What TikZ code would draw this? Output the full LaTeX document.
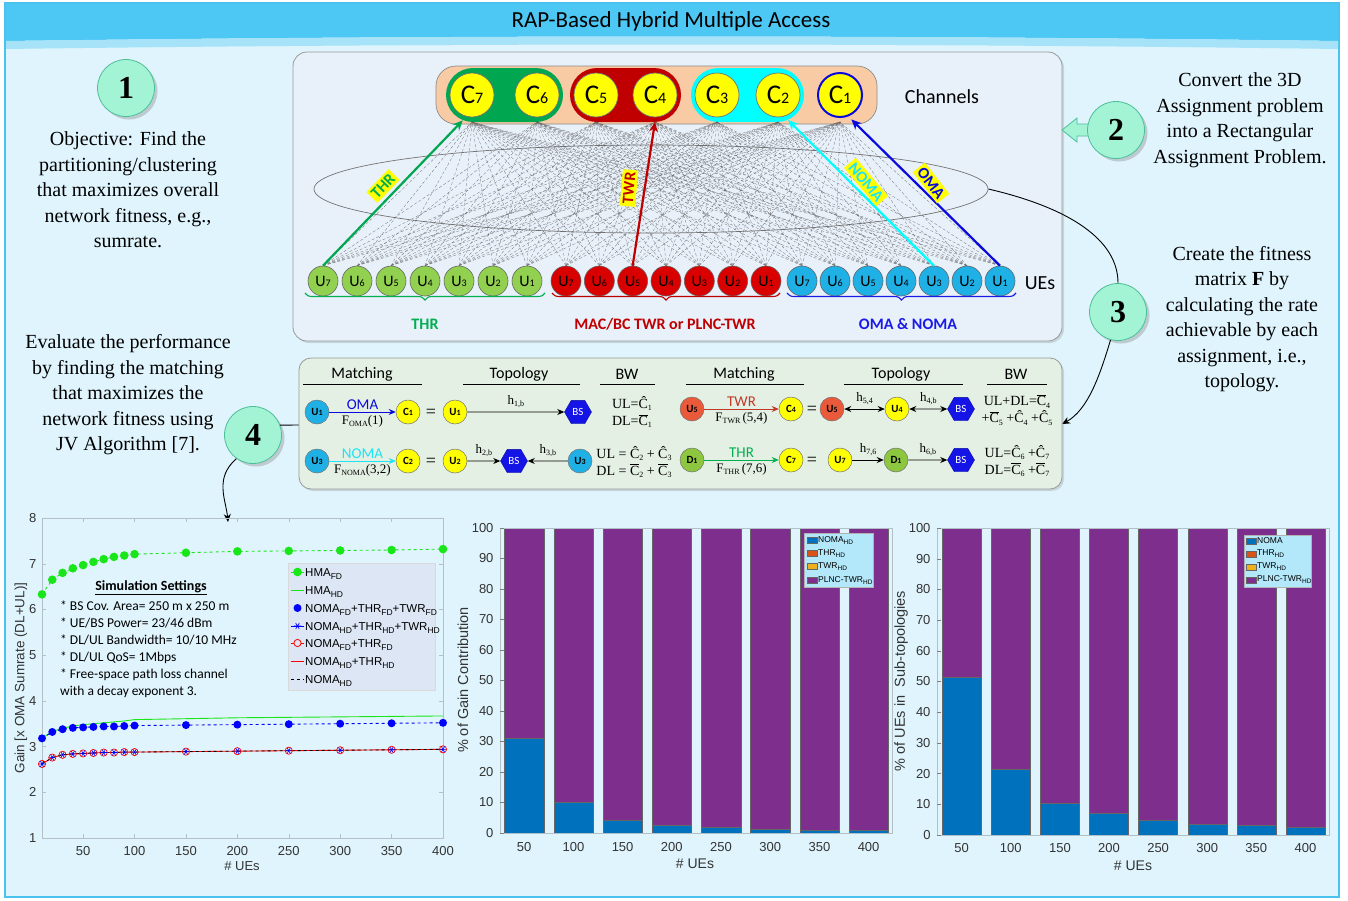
\documentclass[tikz,border=0pt]{standalone}
\usepackage{fontspec}
\setmainfont{Liberation Serif}
\newfontfamily\calib{Carlito}
\newfontfamily\helv{Liberation Sans}
\usetikzlibrary{shapes.geometric,arrows.meta,decorations.pathreplacing,shadows}
\newcommand\fsz[2]{\fontsize{#1}{#2}\selectfont}
\newcommand\smd[2]{{\fsz{#1}{#1}#2}}
\newcommand\ssb[1]{\raisebox{-0.4ex}{\fsz{8.5}{8.5}#1}}
\newcommand\tsb[1]{\raisebox{-0.45ex}{\fsz{6.5}{6.5}#1}}
\newcommand\fsb[1]{\raisebox{-0.35ex}{\fsz{8}{8}#1}}
\newcommand\Ch[1]{Ĉ\fsb{#1}}
\newcommand\Cb[1]{$\overline{\hbox{C}}$\fsb{#1}}
\def\datA{10/6.33,20/6.65,30/6.8,40/6.9,50/6.97,60/7.04,70/7.1,80/7.15,90/7.18,100/7.21,150/7.24,200/7.27,250/7.28,300/7.29,350/7.3,400/7.32}
\def\datB{10/3.18,20/3.33,30/3.4,40/3.45,50/3.48,60/3.5,70/3.52,80/3.54,90/3.56,100/3.59,150/3.61,200/3.63,250/3.64,300/3.65,350/3.66,400/3.67}
\def\datC{10/3.18,20/3.32,30/3.38,40/3.41,50/3.42,60/3.43,70/3.44,80/3.44,90/3.45,100/3.46,150/3.47,200/3.48,250/3.49,300/3.5,350/3.51,400/3.52}
\def\datD{10/2.62,20/2.76,30/2.82,40/2.84,50/2.85,60/2.86,70/2.87,80/2.87,90/2.88,100/2.88,150/2.89,200/2.9,250/2.91,300/2.92,350/2.93,400/2.94}
\definecolor{bgc}{HTML}{DFF4FC}
\definecolor{frame}{HTML}{49C2EE}
\definecolor{titlec}{HTML}{4DC8F5}
\definecolor{titlel}{HTML}{A6E3F8}
\definecolor{panel}{HTML}{E8F0FA}
\definecolor{panelg}{HTML}{E4F0E4}
\definecolor{peach}{HTML}{F8CBA5}
\definecolor{gpill}{HTML}{00A650}
\definecolor{rpill}{HTML}{C00000}
\definecolor{cpill}{HTML}{00FFFF}
\definecolor{chy}{HTML}{FFFF00}
\definecolor{ueg}{HTML}{92D050}
\definecolor{uer}{HTML}{D90000}
\definecolor{ueb}{HTML}{1FB1E6}
\definecolor{oblue}{HTML}{0A0ADC}
\definecolor{thrg}{HTML}{00B050}
\definecolor{txtr}{HTML}{C00000}
\definecolor{txtb}{HTML}{1A1AE6}
\definecolor{mint}{HTML}{A3F3D5}
\definecolor{mintd}{HTML}{4DBF98}
\definecolor{uor}{HTML}{EA5A3A}
\definecolor{dgr}{HTML}{8DC63F}
\definecolor{bsb}{HTML}{1414E6}
\definecolor{twrc}{HTML}{C0392B}
\definecolor{nomac}{HTML}{1EE3F5}
\definecolor{mblue}{HTML}{0072BD}
\definecolor{morange}{HTML}{D95319}
\definecolor{myellow}{HTML}{EDB120}
\definecolor{mpurple}{HTML}{7E2F8E}
\definecolor{legbg}{HTML}{DCE6F4}
\definecolor{legc}{HTML}{B2E8FA}
\definecolor{pgreen}{HTML}{19E619}
\definecolor{axg}{HTML}{B4C0C8}
\begin{document}
\begin{tikzpicture}[x=1pt,y=-1pt,
  declare function={lx(\t)=42+(\t-10)*1.02821; ly(\t)=838-(\t-1)*45.714;},
  chan/.style={circle,fill=chy,draw=black!55,line width=0.7pt,minimum size=44pt,inner sep=0pt,outer sep=5pt,font=\calib\fsz{27}{27}},
  ue/.style={circle,fill=#1,draw=black!60,line width=0.6pt,minimum size=30pt,inner sep=0pt,font=\calib\fsz{16}{16}},
  mesh/.style={densely dashed,black!60,line width=0.25pt},
  hl/.style={line width=2.2pt,-{Stealth[length=10pt,width=9pt]}},
  tag/.style={fill=chy,font=\calib\bfseries\fsz{16}{16},inner sep=2.5pt},
  grp/.style={font=\calib\bfseries\fsz{16}{16}},
  brc/.style={decorate,decoration={brace,mirror,amplitude=7pt},line width=1.1pt},
  num/.style={circle,fill=mint,draw=mintd,line width=0.8pt,minimum size=57pt,inner sep=0pt,font=\bfseries\fsz{32}{32},drop shadow={opacity=0.35,shadow xshift=3pt,shadow yshift=-3pt}},
  desc/.style={align=center,font=\fsz{20}{25.5}},
  sm/.style={circle,fill=#1,draw=black!55,line width=0.5pt,minimum size=24pt,inner sep=0pt,font=\calib\bfseries\fsz{11}{11}},
  bs/.style={regular polygon,regular polygon sides=6,fill=bsb,draw=bsb!70!black,minimum size=27pt,inner sep=0pt,text=white,font=\calib\fsz{11}{11}},
  hdr/.style={font=\calib\fsz{16}{16}},
  sarr/.style={-{Stealth[length=7pt,width=6pt]},line width=0.9pt},
  darr/.style={{Stealth[length=7pt,width=6pt]}-{Stealth[length=7pt,width=6pt]},line width=0.9pt},
  mlab/.style={font=\calib\fsz{15}{15}},
  flab/.style={font=\fsz{13}{13},text=black,inner sep=1pt},
  hlab/.style={font=\fsz{13}{13},text=black},
  bw/.style={align=center,font=\fsz{14}{17}},
  eqs/.style={font=\fsz{18}{18}},
  tkl/.style={font=\helv\fsz{13}{13},text=black!80},
  leg/.style={anchor=west,font=\helv\fsz{11.5}{11.5},inner sep=0pt},
  bleg/.style={anchor=west,font=\helv\fsz{8.5}{8.5},inner sep=0pt},
]
\useasboundingbox (0,0) rectangle (1348,900);
\fill[white] (0,0) rectangle (1348,900);
\filldraw[fill=bgc,draw=frame,line width=2.5pt] (5,3) rectangle (1339,897);
\fill[titlec] (6,4) -- (1338,4) -- (1338,41) .. controls (900,35) and (450,35) .. (6,41) -- cycle;
\fill[titlel] (6,41) .. controls (450,35) and (900,35) .. (1338,41) -- (1338,49) .. controls (900,43) and (450,43) .. (6,49) -- cycle;
\node[font=\calib\fsz{23}{23}] (title) at (671,21) {RAP-Based Hybrid Multiple Access};

% ---------- top panel ----------
\filldraw[fill=panel,draw=black!40,line width=0.8pt,rounded corners=14pt,drop shadow={opacity=0.25,shadow xshift=2pt,shadow yshift=-2pt}] (293,52) rectangle (1062,341);
\filldraw[fill=peach,draw=black!45,line width=0.7pt,rounded corners=20pt] (436,66) rectangle (877,124);
\fill[gpill,rounded corners=27pt] (446,68) rectangle (563,122);
\fill[rpill,rounded corners=27pt] (570,68) rectangle (681,122);
\fill[cpill,rounded corners=27pt] (691,68) rectangle (804,122);
\node[chan] (c7) at (472,95) {C\smd{16}{7}};
\node[chan] (c6) at (537,95) {C\smd{16}{6}};
\node[chan] (c5) at (596,95) {C\smd{16}{5}};
\node[chan] (c4) at (655,95) {C\smd{16}{4}};
\node[chan] (c3) at (717,95) {C\smd{16}{3}};
\node[chan] (c2) at (778,95) {C\smd{16}{2}};
\node[chan,draw=oblue,line width=2pt] (c1) at (840,95) {C\smd{16}{1}};
\node[font=\calib\fsz{20}{20}] (chlab) at (942,97) {Channels};

\node[ellipse,draw=black!55,line width=0.7pt,minimum width=674pt,minimum height=88pt,inner sep=0pt] (ell) at (651,189) {};

\foreach \i [count=\k from 0] in {7,...,1} {
  \node[ue=ueg] (g\i) at ({323+34*\k},281) {U\smd{10}{\i}};
  \node[ue=uer] (r\i) at ({566+33.33*\k},281) {U\smd{10}{\i}};
  \node[ue=ueb] (b\i) at ({802+33*\k},281) {U\smd{10}{\i}};
}
\node[font=\calib\fsz{20}{20}] (uel) at (1040,283) {UEs};

\foreach \p in {g,r,b} \foreach \i in {1,...,7} \foreach \j in {1,...,7}
  \draw[mesh] (\p\i.north) -- (c\j.south);

\draw[hl,gpill] (g7.north) -- (c7.250);
\draw[hl,rpill] (r5.north) -- (c4.south);
\draw[hl,cpill] (b3.north) -- (c2.292);
\draw[hl,oblue] (b1.north) -- (c1.295);
\node[tag,text=thrg,rotate=46] (tthr) at (383,186) {THR};
\node[tag,text=txtr,rotate=85] (ttwr) at (629,188) {TWR};
\node[tag,text=nomac,rotate=-50] (tnoma) at (866,182) {NOMA};
\node[tag,text=oblue,rotate=-52] (toma) at (931,183) {OMA};

\draw[brc,thrg] (305,293) -- (545,293);
\draw[brc,txtr] (552,293) -- (780,293);
\draw[brc,txtb] (787,293) -- (1016,293);
\node[grp,text=thrg] (gthr) at (425,324) {THR};
\node[grp,text=txtr] (gtwr) at (665,324) {MAC/BC TWR or PLNC-TWR};
\node[grp,text=txtb] (goma) at (908,324) {OMA \& NOMA};

% ---------- descriptions ----------
\fill[mint,draw=mintd,line width=0.8pt] (1062,130) -- (1077,118) -- (1077,124) -- (1092,124) -- (1092,136) -- (1077,136) -- (1077,142) -- cycle;
\node[num] (n1) at (126,88) {1};
\node[num] (n2) at (1116,130) {2};
\node[num] (n3) at (1118,312) {3};
\node[num] (n4) at (253,435) {4};
\node[desc] (d1) at (128,190) {Objective: Find the\\partitioning/clustering\\that maximizes overall\\network fitness, e.g.,\\sumrate.};
\node[desc] (d2) at (1240,120) {Convert the 3D\\Assignment problem\\into a Rectangular\\Assignment Problem.};
\node[desc] (d3) at (1242,319) {Create the fitness\\matrix \textbf{F} by\\calculating the rate\\achievable by each\\assignment, i.e.,\\topology.};
\node[desc] (d4) at (128,395) {Evaluate the performance\\by finding the matching\\that maximizes the\\network fitness using\\JV Algorithm [7].};

\coordinate (p2r) at (1062,424);
\coordinate (p2l) at (299,425);
\coordinate (pl) at (228,522);
\draw[line width=0.9pt] (ell.east) .. controls (1070,208) and (1118,240) .. (n3.north);
\draw[line width=0.9pt,-{Stealth[length=8pt,width=7pt]}] (n3.255) .. controls (1100,375) and (1088,410) .. (p2r);
\draw[line width=0.9pt] (n4.20) -- (p2l);
\draw[line width=0.9pt,-{Stealth[length=8pt,width=7pt]}] (n4.235) .. controls (214,478) and (226,500) .. (pl);

% ---------- lower panel ----------
\filldraw[fill=panelg,draw=black!40,line width=0.8pt,rounded corners=12pt,drop shadow={opacity=0.25,shadow xshift=2pt,shadow yshift=-2pt}] (299,358) rectangle (1062,489);
\node[hdr] (h1) at (362,374) {Matching};
\node[hdr] (h2) at (519,374) {Topology};
\node[hdr] (h3) at (627,374) {BW};
\node[hdr] (h4) at (744,374) {Matching};
\node[hdr] (h5) at (901,374) {Topology};
\node[hdr] (h6) at (1016,374) {BW};
\draw[line width=0.8pt] (303,384) -- (422,384) (463,384) -- (580,384) (600,384) -- (655,384) (686,384) -- (804,384) (844,384) -- (963,384) (987,384) -- (1047,384);

\node[sm=ueb] (pA1) at (317,412) {U\smd{8}{1}};
\node[sm=chy] (pA2) at (408,412) {C\smd{8}{1}};
\draw[sarr,oblue] (pA1) -- node[above=-1pt,mlab]{OMA} node[below=2pt,flab]{F\fsb{OMA}(1)} (pA2);
\node[eqs] (pAe) at (431,413) {=};
\node[sm=chy] (pA3) at (455,412) {U\smd{8}{1}};
\node[bs] (pA4) at (578,412) {BS};
\draw[sarr] (pA3) -- node[above=0pt,hlab]{h\fsb{1,b}} (pA4);
\node[bw] (pA5) at (632,412) {UL=\Ch{1}\\DL=\Cb{1}};

\node[sm=ueb] (pB1) at (317,461) {U\smd{8}{3}};
\node[sm=chy] (pB2) at (408,461) {C\smd{8}{2}};
\draw[sarr,nomac] (pB1) -- node[above=-1pt,mlab]{NOMA} node[below=2pt,flab]{F\fsb{NOMA}(3,2)} (pB2);
\node[eqs] (pBe) at (431,462) {=};
\node[sm=chy] (pB3) at (455,461) {U\smd{8}{2}};
\node[bs] (pB4) at (514,461) {BS};
\node[sm=ueb] (pB5) at (580,461) {U\smd{8}{3}};
\draw[sarr] (pB3) -- node[above=0pt,hlab]{h\fsb{2,b}} (pB4);
\draw[sarr] (pB5) -- node[above=0pt,hlab]{h\fsb{3,b}} (pB4);
\node[bw] (pB6) at (634,462) {UL = \Ch{2} + \Ch{3}\\DL = \Cb{2} + \Cb{3}};

\node[sm=uor] (pC1) at (692,409) {U\smd{8}{5}};
\node[sm=chy] (pC2) at (791,409) {C\smd{8}{4}};
\draw[sarr,twrc] (pC1) -- node[above=-1pt,mlab]{TWR} node[below=2pt,flab]{F\fsb{TWR}\,(5,4)} (pC2);
\node[eqs] (pCe) at (812,410) {=};
\node[sm=uor] (pC3) at (832,409) {U\smd{8}{5}};
\node[sm=chy] (pC4) at (897,409) {U\smd{8}{4}};
\node[bs] (pC5) at (961,409) {BS};
\draw[darr] (pC3) -- node[above=0pt,hlab]{h\fsb{5,4}} (pC4);
\draw[darr] (pC4) -- node[above=0pt,hlab]{h\fsb{4,b}} (pC5);
\node[bw] (pC6) at (1017,410) {UL+DL=\Cb{4}\\+\Cb{5} +\Ch{4} +\Ch{5}};

\node[sm=dgr] (pD1) at (692,460) {D\smd{8}{1}};
\node[sm=chy] (pD2) at (791,460) {C\smd{8}{7}};
\draw[sarr,thrg] (pD1) -- node[above=-1pt,mlab]{THR} node[below=2pt,flab]{F\fsb{THR}\,(7,6)} (pD2);
\node[eqs] (pDe) at (812,461) {=};
\node[sm=chy] (pD3) at (840,460) {U\smd{8}{7}};
\node[sm=dgr] (pD4) at (896,460) {D\smd{8}{1}};
\node[bs] (pD5) at (961,460) {BS};
\draw[sarr] (pD3) -- node[above=0pt,hlab]{h\fsb{7,6}} (pD4);
\draw[sarr] (pD4) -- node[above=0pt,hlab]{h\fsb{6,b}} (pD5);
\node[bw] (pD6) at (1017,461) {UL=\Ch{6} +\Ch{7}\\DL=\Cb{6} +\Cb{7}};

% ---------- left plot ----------
\draw[axg,line width=0.6pt] ({lx(10)},{ly(1)}) rectangle ({lx(400)},{ly(8)});
\foreach \v in {1,...,8} {
  \draw[axg] ({lx(10)},{ly(\v)}) -- ++(4,0);
  \draw[axg] ({lx(400)},{ly(\v)}) -- ++(-4,0);
  \node[tkl,anchor=east] at (40,{ly(\v)}) {\v};
}
\foreach \v in {50,100,...,400} {
  \draw[axg] ({lx(\v)},838) -- ++(0,-4);
  \draw[axg] ({lx(\v)},518) -- ++(0,4);
  \node[tkl] at ({lx(\v)},851) {\v};
}
\draw[pgreen,line width=0.9pt] ({lx(10)},{ly(3.18)}) \foreach \x/\y in \datB {-- ({lx(\x)},{ly(\y)})};
\draw[pgreen,dashed,line width=0.9pt] ({lx(10)},{ly(6.33)}) \foreach \x/\y in \datA {-- ({lx(\x)},{ly(\y)})};
\foreach \x/\y in \datA {\fill[pgreen] ({lx(\x)},{ly(\y)}) circle (4.3);}
\draw[blue,dashed,line width=0.9pt] ({lx(10)},{ly(3.18)}) \foreach \x/\y in \datC {-- ({lx(\x)},{ly(\y)})};
\foreach \x/\y in \datC {\fill[blue] ({lx(\x)},{ly(\y)}) circle (4);}
\draw[red,line width=0.9pt] ({lx(10)},{ly(2.62)}) \foreach \x/\y in \datD {-- ({lx(\x)},{ly(\y)})};
\draw[black,dashed,line width=0.8pt] ({lx(10)},{ly(2.62)}) \foreach \x/\y in \datD {-- ({lx(\x)},{ly(\y)})};
\foreach \x/\y in \datD {
  \draw[red,line width=0.7pt] ({lx(\x)},{ly(\y)}) circle (3.6);
  \draw[blue,line width=0.6pt] ({lx(\x)},{ly(\y)}) +(-3.2,0) -- +(3.2,0) +(-1.6,-2.8) -- +(1.6,2.8) +(-1.6,2.8) -- +(1.6,-2.8);
}
\node[font=\helv\fsz{13}{13},text=black!80] (lxl) at (242,866) {\# UEs};
\node[rotate=90,font=\helv\fsz{13.5}{13.5},text=black!80] (lyl) at (21,678) {Gain [x OMA Sumrate (DL+UL)]};
\node[font=\calib\bfseries\fsz{14}{14}] (sst) at (151,588) {\underline{Simulation Settings}};
\node[anchor=west,align=left,font=\calib\fsz{13.5}{17},inner sep=0pt] (ssb) at (60,649.5) {* BS Cov. Area= 250 m x 250 m\\* UE/BS Power= 23/46 dBm\\* DL/UL Bandwidth= 10/10 MHz\\* DL/UL QoS= 1Mbps\\* Free-space path loss channel\\with a decay exponent 3.};

\filldraw[fill=legbg,draw=black!15,line width=0.5pt] (288,563) rectangle (435,690);
\draw[pgreen,line width=0.9pt] (291,572) -- (304,572);
\fill[pgreen] (297.5,572) circle (4.3);
\node[leg] (l1) at (305,574) {HMA\ssb{FD}};
\draw[pgreen,line width=0.9pt] (291,590) -- (304,590);
\node[leg] (l2) at (305,592) {HMA\ssb{HD}};
\fill[blue] (297.5,608) circle (4);
\node[leg] (l3) at (305,610) {NOMA\ssb{FD}+THR\ssb{FD}+TWR\ssb{FD}};
\draw[blue,line width=0.8pt] (291,626) -- (304,626);
\draw[blue,line width=0.6pt] (297.5,626) +(-3.5,0) -- +(3.5,0) +(-1.8,-3) -- +(1.8,3) +(-1.8,3) -- +(1.8,-3);
\node[leg] (l4) at (305,628) {NOMA\ssb{HD}+THR\ssb{HD}+TWR\ssb{HD}};
\draw[red,line width=0.8pt] (291,643) -- (304,643);
\filldraw[fill=legbg,draw=red,line width=0.8pt] (297.5,643) circle (3.6);
\node[leg] (l5) at (305,645) {NOMA\ssb{FD}+THR\ssb{FD}};
\draw[red,line width=0.9pt] (291,661) -- (304,661);
\node[leg] (l6) at (305,663) {NOMA\ssb{HD}+THR\ssb{HD}};
\draw[black,dashed,line width=0.9pt] (291,679) -- (304,679);
\node[leg] (l7) at (305,681) {NOMA\ssb{HD}};

% ---------- middle bar chart ----------
\begin{scope}[shift={(0,833)},yscale=-3.05]
  \foreach \i/\v in {0/31,1/10,2/4.3,3/2.6,4/2,5/1.4,6/1.1,7/0.9} {
    \filldraw[fill=mpurple,draw=black!60,line width=0.3pt] ({524.2+49.2*\i-19.7},\v) rectangle ({524.2+49.2*\i+19.7},100);
    \filldraw[fill=mblue,draw=black!60,line width=0.3pt] ({524.2+49.2*\i-19.7},0) rectangle ({524.2+49.2*\i+19.7},\v);
  }
  \draw[axg,line width=0.6pt] (500,0) rectangle (892,100);
  \foreach \v in {0,10,...,100} {
    \draw[black!50] (500,\v) -- (504,\v);
    \node[tkl,anchor=east] at (497,\v) {\v};
  }
\end{scope}
\foreach \i/\l in {0/50,1/100,2/150,3/200,4/250,5/300,6/350,7/400}
  \node[tkl] at ({524.2+49.2*\i},847) {\l};
\node[font=\helv\fsz{14}{14},text=black!80] (mxl) at (695,864) {\# UEs};
\node[rotate=90,font=\helv\fsz{14.5}{14.5},text=black!80] (myl) at (463,680) {\% of Gain Contribution};
\filldraw[fill=legc,draw=black!30,line width=0.4pt] (804,533) rectangle (873,587);
\filldraw[fill=mblue,draw=black!60,line width=0.3pt] (807,537) rectangle (817,543);
\node[bleg] (m1) at (818,541) {NOMA\tsb{HD}};
\filldraw[fill=morange,draw=black!60,line width=0.3pt] (807,550) rectangle (817,556);
\node[bleg] (m2) at (818,554) {THR\tsb{HD}};
\filldraw[fill=myellow,draw=black!60,line width=0.3pt] (807,563) rectangle (817,569);
\node[bleg] (m3) at (818,567) {TWR\tsb{HD}};
\filldraw[fill=mpurple,draw=black!60,line width=0.3pt] (807,577) rectangle (817,583);
\node[bleg] (m4) at (818,581) {PLNC-TWR\tsb{HD}};

% ---------- right bar chart ----------
\begin{scope}[shift={(0,835)},yscale=-3.07]
  \foreach \i/\v in {0/51.5,1/21.3,2/10.5,3/7,4/5,5/3.7,6/3.1,7/2.4} {
    \filldraw[fill=mpurple,draw=black!60,line width=0.3pt] ({961.7+49.1*\i-19.5},\v) rectangle ({961.7+49.1*\i+19.5},100);
    \filldraw[fill=mblue,draw=black!60,line width=0.3pt] ({961.7+49.1*\i-19.5},0) rectangle ({961.7+49.1*\i+19.5},\v);
  }
  \draw[axg,line width=0.6pt] (937,0) rectangle (1329,100);
  \foreach \v in {0,10,...,100} {
    \draw[black!50] (937,\v) -- (941,\v);
    \node[tkl,anchor=east] at (934,\v) {\v};
  }
\end{scope}
\foreach \i/\l in {0/50,1/100,2/150,3/200,4/250,5/300,6/350,7/400}
  \node[tkl] at ({961.7+49.1*\i},848) {\l};
\node[font=\helv\fsz{14}{14},text=black!80] (rxl) at (1133,866) {\# UEs};
\node[rotate=90,font=\helv\fsz{14.5}{14.5},text=black!80] (ryl) at (901,681) {\% of UEs in \ Sub-topologies};
\filldraw[fill=legc,draw=black!30,line width=0.4pt] (1244,535) rectangle (1311,587);
\filldraw[fill=mblue,draw=black!60,line width=0.3pt] (1246,538) rectangle (1256,544);
\node[bleg] (q1) at (1257,541) {NOMA};
\filldraw[fill=morange,draw=black!60,line width=0.3pt] (1246,551) rectangle (1256,557);
\node[bleg] (q2) at (1257,554) {THR\tsb{HD}};
\filldraw[fill=myellow,draw=black!60,line width=0.3pt] (1246,564) rectangle (1256,570);
\node[bleg] (q3) at (1257,567) {TWR\tsb{HD}};
\filldraw[fill=mpurple,draw=black!60,line width=0.3pt] (1246,577) rectangle (1256,583);
\node[bleg] (q4) at (1257,580) {PLNC-TWR\tsb{HD}};
\end{tikzpicture}
\end{document}
